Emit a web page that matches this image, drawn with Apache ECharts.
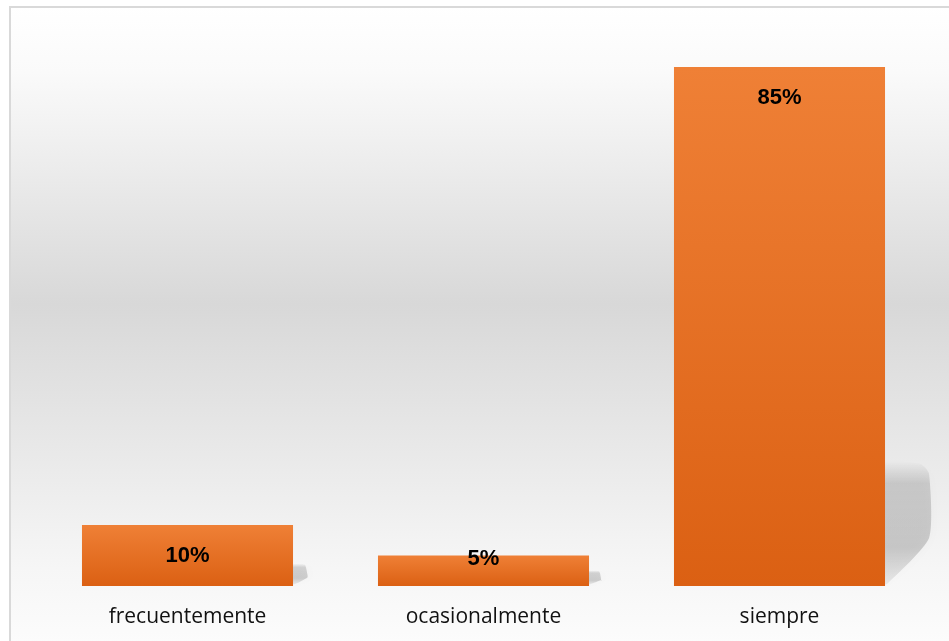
<!DOCTYPE html>
<html>
<head>
<meta charset="utf-8">
<script src="https://cdn.jsdelivr.net/npm/echarts@6/dist/echarts.min.js"></script>
<style>
  html, body { margin: 0; padding: 0; background: #ffffff; }
  #chart { width: 949px; height: 641px; }
</style>
</head>
<body>
<div id="chart"></div>
<script>
// Frequency answers and their share of responses (%)
const categories = ['frecuentemente', 'ocasionalmente', 'siempre'];
const percentages = [10, 5, 85];

const chart = echarts.init(document.getElementById('chart'), null, { renderer: 'canvas' });

const barGradient = new echarts.graphic.LinearGradient(0, 0, 0, 1, [
  { offset: 0, color: '#ef8036' },
  { offset: 1, color: '#db6013' }
]);

// Soft perspective shadow cast to the right of each bar
function renderShadow(params, api) {
  const i = api.value(0);
  const top = api.coord([i, api.value(1)]);
  const base = api.coord([i, 0]);
  const bandWidth = api.size([1, 0])[0];
  const barW = bandWidth * 0.713;
  const right = base[0] + barW / 2;
  const h = base[1] - top[1];
  const sh = h * 0.22 + 8;
  const sw = Math.min(44, 8 + sh * 0.3);
  const bottom = base[1];
  return {
    type: 'polygon',
    shape: {
      smooth: 0.2,
      points: [
        [right - 4, bottom - sh],
        [right + sw * 0.8, bottom - sh],
        [right + sw, bottom - sh + 10],
        [right + sw, bottom - Math.min(sh * 0.4, 48)],
        [right + 2, bottom - 2],
        [right - 4, bottom - 2]
      ]
    },
    style: {
      fill: new echarts.graphic.LinearGradient(0, 0, 0, 1, [
        { offset: 0, color: 'rgba(0,0,0,0)' },
        { offset: 0.18, color: 'rgba(0,0,0,0.14)' },
        { offset: 0.7, color: 'rgba(0,0,0,0.17)' },
        { offset: 1, color: 'rgba(0,0,0,0.06)' }
      ]),
      shadowBlur: 10,
      shadowColor: 'rgba(0,0,0,0.15)'
    }
  };
}

chart.setOption({
  animation: false,
  backgroundColor: '#ffffff',
  graphic: [
    {
      type: 'rect',
      z: -10,
      shape: { x: 10, y: 7, width: 960, height: 660 },
      style: {
        fill: new echarts.graphic.LinearGradient(0, 0, 0, 1, [
          { offset: 0, color: '#ffffff' },
          { offset: 0.1, color: '#fafafa' },
          { offset: 0.45, color: '#d8d8d8' },
          { offset: 0.85, color: '#f6f6f6' },
          { offset: 1, color: '#fefefe' }
        ]),
        stroke: '#d9d9d9',
        lineWidth: 2
      }
    }
  ],
  grid: { left: 39.5, right: 21.5, top: 36.5, bottom: 55 },
  xAxis: {
    type: 'category',
    data: categories,
    axisLine: { show: false },
    axisTick: { show: false },
    axisLabel: {
      color: '#111111',
      fontFamily: 'Open Sans',
      fontSize: 21,
      margin: 21
    }
  },
  yAxis: {
    type: 'value',
    min: 0,
    max: 90,
    show: false,
    splitLine: { show: false }
  },
  series: [
    {
      name: 'sombra',
      type: 'custom',
      renderItem: renderShadow,
      data: percentages.map((v, i) => [i, v]),
      z: 1,
      silent: true
    },
    {
      name: 'porcentaje',
      type: 'bar',
      barWidth: '71.3%',
      z: 3,
      itemStyle: { color: barGradient },
      data: percentages.map(v => ({
        value: v,
        label: v < 8
          ? { position: 'insideBottom', distance: 16 }
          : { position: 'insideTop', distance: 20 }
      })),
      label: {
        show: true,
        formatter: p => p.value + '%',
        color: '#000000',
        fontFamily: 'Liberation Sans',
        fontWeight: 'bold',
        fontSize: 22
      }
    }
  ]
});
</script>
</body>
</html>
